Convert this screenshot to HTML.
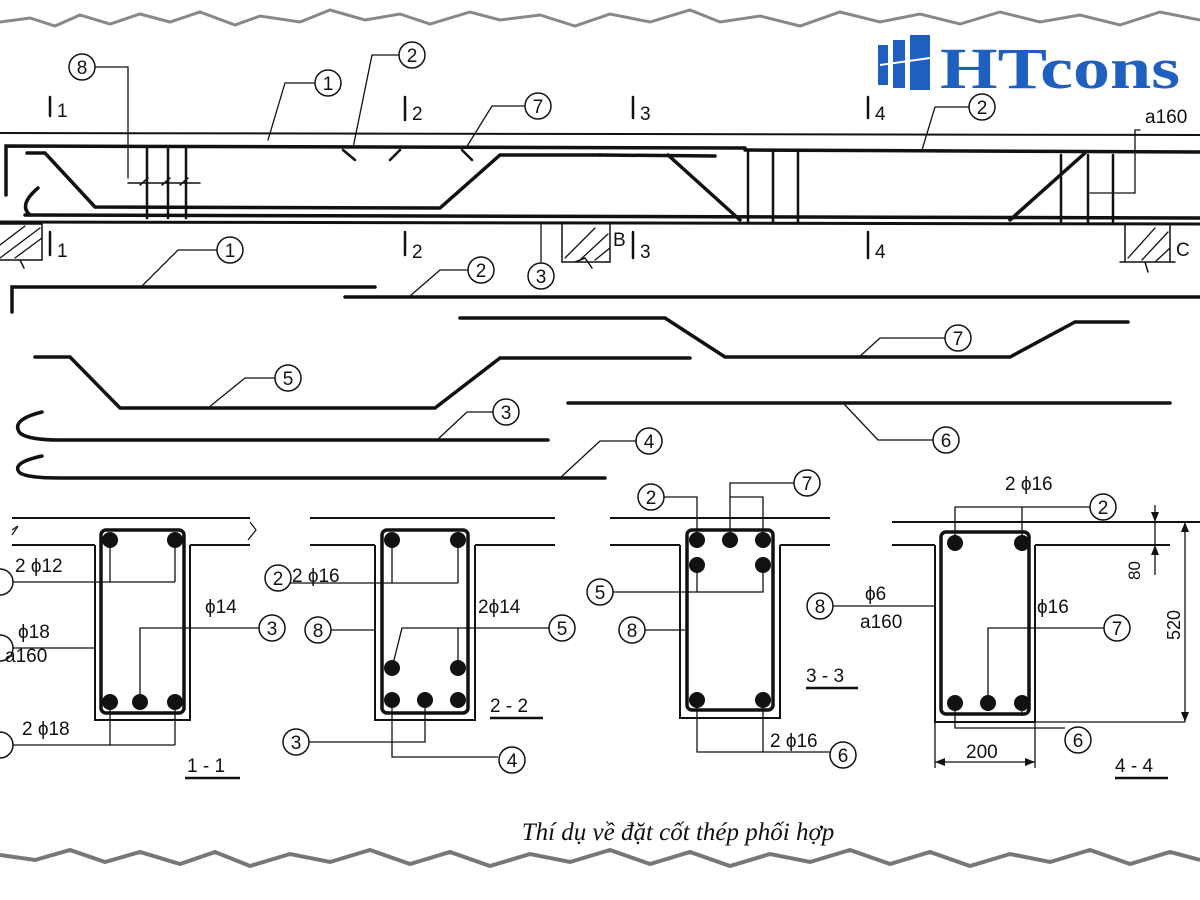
<!DOCTYPE html>
<html><head><meta charset="utf-8"><style>
html,body{margin:0;padding:0;background:#fff}
svg{display:block}
text{font-family:"Liberation Sans",sans-serif;fill:#111}
</style></head><body>
<svg width="1200" height="900" viewBox="0 0 1200 900" xmlns="http://www.w3.org/2000/svg">
<rect width="1200" height="900" fill="#fff"/>
<!-- torn edges -->
<path d="M0,22 L30,18 L55,26 L80,15 L110,24 L140,14 L170,22 L200,12 L235,25 L260,16 L300,22 L330,10 L365,20 L400,14 L430,24 L470,12 L500,20 L540,15 L575,26 L610,14 L650,22 L690,10 L720,22 L760,16 L800,26 L840,12 L880,22 L920,14 L960,24 L1000,12 L1040,22 L1080,15 L1120,25 L1160,12 L1200,20" fill="none" stroke="#888" stroke-width="3"/>
<path d="M0,855 L35,860 L70,850 L105,862 L140,852 L180,864 L215,852 L250,866 L290,854 L330,862 L370,850 L410,864 L450,852 L490,866 L530,854 L570,862 L610,850 L650,864 L690,852 L730,866 L770,854 L810,862 L850,850 L890,864 L930,852 L970,866 L1010,854 L1050,862 L1090,850 L1130,864 L1170,852 L1200,860" fill="none" stroke="#777" stroke-width="4"/>

<g stroke="#111" fill="none" stroke-linecap="round">
<line x1="0" y1="133" x2="1200" y2="135" stroke-width="2"/>
<line x1="0" y1="222" x2="1200" y2="224" stroke-width="3"/>
<path d="M6,195 L6,146 L745,148" stroke-width="3.5"/>
<line x1="745" y1="150" x2="1200" y2="152" stroke-width="3.5"/>
<line x1="25" y1="215" x2="1200" y2="218" stroke-width="3.5"/>
<path d="M38,188 Q18,205 30,215" stroke-width="3.5"/>
<path d="M27,153 L45,153 L95,207 L440,208 L500,155 L600,155" stroke-width="3.5"/>
<path d="M600,155 L715,156 M668,155 L740,220" stroke-width="3.5"/>
<path d="M1010,220 L1085,153" stroke-width="3.5"/>
<path d="M147,148 V218 M168,148 V218 M186,148 V218" stroke-width="2.5"/>
<path d="M748,152 V222 M773,152 V222 M798,152 V222" stroke-width="2.5"/>
<path d="M1061,155 V222 M1088,155 V222 M1113,155 V222" stroke-width="2.5"/>
<path d="M343,150 L355,160 M400,150 L390,160 M462,150 L472,160" stroke-width="2.5"/>
<path d="M140,185 L148,178 M162,185 L170,178 M180,185 L188,178 M128,183 H200" stroke-width="1.5"/>
<path d="M50,97 V116 M50,232 V255 M405,97 V120 M405,232 V255 M633,97 V118 M633,232 V258 M868,97 V118 M868,232 V258" stroke-width="2.5"/>
<path d="M0,224 H42 V260 H0 M20,260 L24,268" stroke-width="1.5"/>
<path d="M0,258 L40,228 M0,245 L25,226 M15,258 L42,238" stroke-width="1.3"/>
<path d="M562,224 V262 H610 V224 M575,262 L585,258 L592,268" stroke-width="1.5"/>
<path d="M565,258 L595,228 M580,260 L608,234 M595,260 L610,248" stroke-width="1.3"/>
<path d="M1125,224 V262 H1170 V224 M1120,262 H1175 M1145,262 L1148,272" stroke-width="1.5"/>
<path d="M1128,258 L1155,228 M1142,260 L1168,232 M1155,262 L1170,248" stroke-width="1.3"/>
<path d="M541,224 V262" stroke-width="1.3"/>
<path d="M82,67 H128 V178" stroke-width="1.3"/>
<path d="M315,83 H285 L268,140" stroke-width="1.3"/>
<path d="M400,55 H372 L353,148" stroke-width="1.3"/>
<path d="M525,106 H492 L466,148" stroke-width="1.3"/>
<path d="M968,107 H935 L922,150" stroke-width="1.3"/>
<path d="M1140,130 H1135 V193 H1090" stroke-width="1.3"/>
<path d="M12,312 V287 H375" stroke-width="3.5"/>
<path d="M345,297 H1200" stroke-width="3.5"/>
<path d="M460,318 H665 L725,357 H1010 L1075,322 H1128" stroke-width="3.5"/>
<path d="M35,357 H70 L120,408 H435 L500,358 H690" stroke-width="3.5"/>
<path d="M568,403 H1170" stroke-width="3.5"/>
<path d="M42,412 Q10,420 20,433 Q28,440 60,440 H548" stroke-width="3.5"/>
<path d="M42,456 Q10,463 20,473 Q28,478 60,478 H605" stroke-width="3.5"/>
<path d="M218,250 H178 L143,285" stroke-width="1.3"/>
<path d="M468,270 H440 L410,296" stroke-width="1.3"/>
<path d="M945,338 H880 L858,358" stroke-width="1.3"/>
<path d="M275,378 H245 L208,408" stroke-width="1.3"/>
<path d="M493,412 H467 L437,440" stroke-width="1.3"/>
<path d="M933,440 H878 L845,405" stroke-width="1.3"/>
<path d="M636,441 H600 L560,478" stroke-width="1.3"/>
</g>

<g fill="#fff" stroke="#111" stroke-width="1.5">
<circle cx="82" cy="67" r="13"/><circle cx="328" cy="83" r="13"/><circle cx="412" cy="55" r="13"/>
<circle cx="538" cy="106" r="13"/><circle cx="982" cy="107" r="13"/>
<circle cx="230" cy="250" r="13"/><circle cx="481" cy="270" r="13"/><circle cx="541" cy="276" r="13"/>
<circle cx="958" cy="338" r="13"/><circle cx="288" cy="378" r="13"/><circle cx="506" cy="412" r="13"/>
<circle cx="946" cy="440" r="13"/><circle cx="649" cy="441" r="13"/>
</g>
<g font-size="19" text-anchor="middle">
<text x="82" y="74">8</text><text x="328" y="90">1</text><text x="412" y="62">2</text>
<text x="538" y="113">7</text><text x="982" y="114">2</text>
<text x="230" y="257">1</text><text x="481" y="277">2</text><text x="541" y="283">3</text>
<text x="958" y="345">7</text><text x="288" y="385">5</text><text x="506" y="419">3</text>
<text x="946" y="447">6</text><text x="649" y="448">4</text>
</g>
<g font-size="19">
<text x="57" y="117">1</text><text x="57" y="257">1</text>
<text x="412" y="120">2</text><text x="412" y="258">2</text>
<text x="640" y="120">3</text><text x="640" y="258">3</text>
<text x="875" y="120">4</text><text x="875" y="258">4</text>
<text x="613" y="246">B</text><text x="1176" y="256">C</text>
<text x="1145" y="123">a160</text>
</g>

<g stroke="#111" fill="none">
<path d="M12,518 H250 M12,545 H95 M190,545 H250 M95,545 V720 H190 V545" stroke-width="2"/>
<path d="M12,530 L18,526 L12,535 M250,522 L256,530 L248,540" stroke-width="1.2"/>
<rect x="101" y="530" width="83" height="183" rx="5" stroke-width="3.5"/>
<path d="M110,540 V582 M175,540 V582 M5,582 H175" stroke-width="1.3"/>
<path d="M140,702 V628 H262" stroke-width="1.3"/>
<path d="M5,648 H95" stroke-width="1.3"/>
<path d="M110,702 V745 M175,702 V745 M10,745 H175" stroke-width="1.3"/>
<path d="M185,778 H240" stroke-width="2.5"/>
<path d="M310,518 H555 M310,545 H375 M475,545 H555 M375,545 V720 H475 V545" stroke-width="2"/>
<rect x="382" y="530" width="86" height="183" rx="5" stroke-width="3.5"/>
<path d="M392,540 V583 M458,540 V583 M290,583 H458" stroke-width="1.3"/>
<path d="M392,668 L402,628 H550 M458,628 V668" stroke-width="1.3"/>
<path d="M318,630 H375" stroke-width="1.3"/>
<path d="M425,700 V742 H300 M392,700 V757 H498" stroke-width="1.3"/>
<path d="M490,718 H543" stroke-width="2.5"/>
<path d="M610,518 H830 M610,545 H680 M780,545 V718 H680 V545 M780,545 H830" stroke-width="2"/>
<rect x="687" y="530" width="86" height="180" rx="5" stroke-width="3.5"/>
<path d="M664,497 H697 V540 M730,540 V497 H763 V540 M730,497 V483 H795" stroke-width="1.3"/>
<path d="M612,592 H763 V565 M697,565 V592" stroke-width="1.3"/>
<path d="M645,630 H685" stroke-width="1.3"/>
<path d="M697,700 V752 H830 M763,700 V752" stroke-width="1.3"/>
<path d="M806,688 H858" stroke-width="2.5"/>
<path d="M892,522 H1200 M892,545 H935 M1035,545 V722 H935 V545 M1035,545 H1170" stroke-width="2"/>
<rect x="941" y="532" width="88" height="182" rx="5" stroke-width="3.5"/>
<path d="M955,543 V507 H1022 V543 M1022,507 H1090" stroke-width="1.3"/>
<path d="M988,703 V628 H1105" stroke-width="1.3"/>
<path d="M833,606 H935" stroke-width="1.3"/>
<path d="M955,703 V728 H1065 M1022,703 V716" stroke-width="1.3"/>
<path d="M1035,722 H1185 M935,722 V768 M1035,722 V768 M935,762 H1035" stroke-width="1.3"/>
<path d="M1185,522 V722 M1155,505 V575" stroke-width="1.3"/>
<path d="M1115,778 H1168" stroke-width="2.5"/>
</g>
<g fill="#111">
<circle cx="110" cy="540" r="8"/><circle cx="175" cy="540" r="8"/>
<circle cx="110" cy="702" r="8"/><circle cx="140" cy="702" r="8"/><circle cx="175" cy="702" r="8"/>
<circle cx="392" cy="540" r="8"/><circle cx="458" cy="540" r="8"/>
<circle cx="392" cy="668" r="8"/><circle cx="458" cy="668" r="8"/>
<circle cx="392" cy="700" r="8"/><circle cx="425" cy="700" r="8"/><circle cx="458" cy="700" r="8"/>
<circle cx="697" cy="540" r="8"/><circle cx="730" cy="540" r="8"/><circle cx="763" cy="540" r="8"/>
<circle cx="697" cy="565" r="8"/><circle cx="763" cy="565" r="8"/>
<circle cx="697" cy="700" r="8"/><circle cx="763" cy="700" r="8"/>
<circle cx="955" cy="543" r="8"/><circle cx="1022" cy="543" r="8"/>
<circle cx="955" cy="703" r="8"/><circle cx="988" cy="703" r="8"/><circle cx="1022" cy="703" r="8"/>
<path d="M935,762 l10,-4 v8z M1035,762 l-10,-4 v8z M1185,522 l-4,10 h8z M1185,722 l-4,-10 h8z M1155,522 l-4,-10 h8z M1155,545 l-4,10 h8z"/>
</g>
<g fill="#fff" stroke="#111" stroke-width="1.5">
<circle cx="0" cy="582" r="13"/><circle cx="272" cy="628" r="13"/><circle cx="0" cy="648" r="13"/><circle cx="0" cy="745" r="13"/>
<circle cx="278" cy="578" r="13"/><circle cx="562" cy="628" r="13"/><circle cx="318" cy="630" r="13"/>
<circle cx="296" cy="742" r="13"/><circle cx="512" cy="760" r="13"/>
<circle cx="651" cy="497" r="13"/><circle cx="807" cy="483" r="13"/><circle cx="600" cy="592" r="13"/>
<circle cx="632" cy="630" r="13"/><circle cx="843" cy="755" r="13"/>
<circle cx="1103" cy="507" r="13"/><circle cx="820" cy="606" r="13"/><circle cx="1117" cy="628" r="13"/>
<circle cx="1078" cy="740" r="13"/>
</g>
<g font-size="19" text-anchor="middle">
<text x="272" y="635">3</text><text x="278" y="585">2</text><text x="562" y="635">5</text><text x="318" y="637">8</text>
<text x="296" y="749">3</text><text x="512" y="767">4</text><text x="651" y="504">2</text><text x="807" y="490">7</text>
<text x="600" y="599">5</text><text x="632" y="637">8</text><text x="843" y="762">6</text><text x="1103" y="514">2</text>
<text x="820" y="613">8</text><text x="1117" y="635">7</text><text x="1078" y="747">6</text>
</g>
<g font-size="19">
<text x="15" y="572">2 ϕ12</text><text x="18" y="638">ϕ18</text><text x="5" y="662">a160</text>
<text x="205" y="613">ϕ14</text><text x="22" y="735">2 ϕ18</text><text x="187" y="772">1 - 1</text>
<text x="292" y="582">2 ϕ16</text><text x="478" y="613">2ϕ14</text><text x="490" y="712">2 - 2</text>
<text x="806" y="682">3 - 3</text><text x="770" y="747">2 ϕ16</text>
<text x="1005" y="490">2 ϕ16</text><text x="865" y="600">ϕ6</text><text x="860" y="628">a160</text>
<text x="1037" y="613">ϕ16</text><text x="966" y="758">200</text><text x="1115" y="772">4 - 4</text>
<text x="1140" y="580" transform="rotate(-90 1140 580)" font-size="17">80</text>
<text x="1180" y="640" transform="rotate(-90 1180 640)" font-size="18">520</text>
</g>
<text x="678" y="840" text-anchor="middle" style="font-family:'Liberation Serif',serif;font-style:italic;font-size:25px">Thí dụ về đặt cốt thép phối hợp</text>

<g fill="#1f5fbf">
<rect x="878" y="45" width="10" height="40"/>
<rect x="893" y="40" width="12" height="48"/>
<rect x="910" y="35" width="20" height="55"/>
</g>
<g stroke="#fff" stroke-width="2"><line x1="880" y1="65" x2="930" y2="58"/></g>
<text x="940" y="88" textLength="240" lengthAdjust="spacingAndGlyphs" style="font-family:'Liberation Serif',serif;font-weight:bold;font-size:58px;fill:#1f5fbf">HTcons</text>
</svg>
</body></html>
